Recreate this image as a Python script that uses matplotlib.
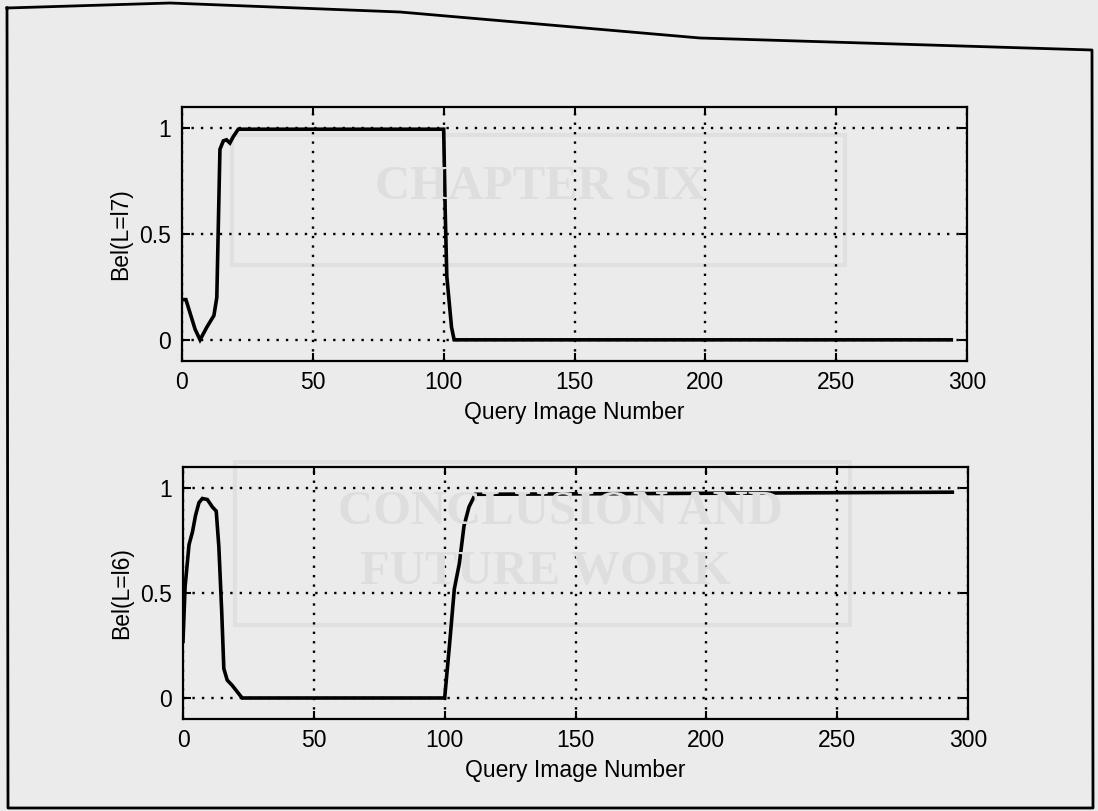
import matplotlib
matplotlib.use("Agg")
import matplotlib.pyplot as plt
from matplotlib.lines import Line2D
from matplotlib.patches import Rectangle

plt.rcParams['font.family'] = ['Liberation Sans', 'DejaVu Sans']

# Belief that the robot is at location l7, per query image
bel_l7_x = [0, 1.5, 3, 5, 6.9, 9.5, 12.2, 13.3, 14.5, 15.8, 17.0, 18.3, 19.6, 21.5,
            100, 100.6, 101.2, 103, 104, 294]
bel_l7_y = [0.19, 0.19, 0.13, 0.05, 0.0, 0.06, 0.115, 0.20, 0.90, 0.94, 0.945, 0.93, 0.96, 0.995,
            0.995, 0.6, 0.3, 0.06, 0.0, 0.0]

# Belief that the robot is at location l6, per query image
bel_l6_x = [0, 0.8, 2.3, 3.6, 4.8, 6.1, 7.4, 9.3, 11.2, 12.7, 13.7, 14.8, 15.6, 16.9,
            18.8, 20.7, 22.6, 100, 101.9, 103.7, 105.6, 107.4, 109.3, 111.7, 294]
bel_l6_y = [0.27, 0.53, 0.73, 0.79, 0.87, 0.93, 0.95, 0.945, 0.91, 0.89, 0.72, 0.41, 0.14, 0.085,
            0.06, 0.03, 0.0, 0.0, 0.26, 0.52, 0.64, 0.82, 0.91, 0.97, 0.98]

x_ticks = [0, 50, 100, 150, 200, 250, 300]
y_ticks = [0, 0.5, 1]
y_tick_labels = ['0', '0.5', '1']
x_label = 'Query Image Number'
y_labels = ['Bel(L=l7)', 'Bel(L=l6)']

W, H = 1098, 811
PAGE = '#ebebeb'
fig = plt.figure(figsize=(W / 100, H / 100), dpi=100, facecolor=PAGE)


def px(x, y):
    return x / W, 1 - y / H


# faint lettering from the facing page
ghost = '#dedede'
for txt, (gx, gy), fs in [('CHAPTER SIX', (540, 187), 35),
                          ('CONCLUSION AND', (560, 512), 35),
                          ('FUTURE WORK', (545, 572), 35)]:
    fig.text(*px(gx, gy), txt, ha='center', va='center', fontsize=fs,
             family='Liberation Serif', fontweight='bold', color=ghost, zorder=0)
for (rx0, ry0, rx1, ry1) in [(232, 135, 845, 265), (235, 462, 850, 625)]:
    fig.add_artist(Rectangle(px(rx0, ry1), (rx1 - rx0) / W, (ry1 - ry0) / H,
                             transform=fig.transFigure, fill=False,
                             edgecolor='#e0e0e0', lw=3, zorder=0))

# page border
bx = [7, 170, 400, 700, 1092, 1093, 8, 7]
by = [8, 3, 12, 38, 50, 808, 808, 8]
fig.add_artist(Line2D([v / W for v in bx], [1 - v / H for v in by],
                      transform=fig.transFigure, color='black', lw=2.0))

axes_pos = [[182 / W, 1 - 361 / H, 785 / W, 254 / H],
            [183 / W, 1 - 719 / H, 785 / W, 252 / H]]
series = [(bel_l7_x, bel_l7_y), (bel_l6_x, bel_l6_y)]

for pos, (sx, sy), ylab in zip(axes_pos, series, y_labels):
    ax = fig.add_axes(pos)
    ax.set_facecolor('none')
    ax.plot(sx, sy, color='black', lw=2.6, solid_joinstyle='miter', zorder=3)
    ax.set_xlim(0, 300)
    ax.set_ylim(-0.1, 1.1)
    ax.set_xticks(x_ticks)
    ax.set_yticks(y_ticks)
    ax.set_yticklabels(y_tick_labels)
    ax.grid(True, color='black', linestyle=(0, (1, 3)), lw=1.7)
    ax.tick_params(direction='in', length=6, width=1.5, top=True, right=True,
                   labelsize=16.5, color='black')
    ax.tick_params(axis='x', pad=7)
    ax.tick_params(axis='y', pad=8)
    for s in ax.spines.values():
        s.set_linewidth(1.6)
        s.set_color('black')
    ax.set_xlabel(x_label, fontsize=16.5, labelpad=5)
    ax.set_ylabel(ylab, fontsize=16.5, labelpad=5)

fig.savefig('out.png', dpi=100, facecolor=PAGE)
